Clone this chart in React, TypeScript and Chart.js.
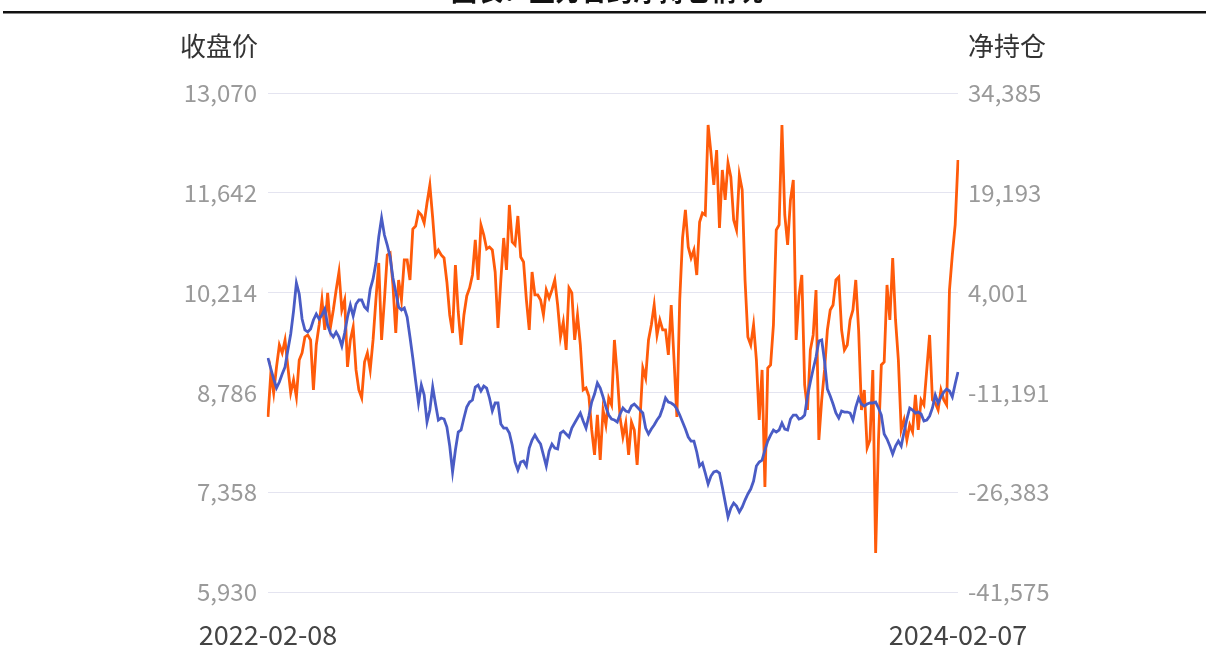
import React, { useEffect, useRef } from "react";
import { Chart, registerables } from "chart.js";

Chart.register(...registerables);

const startDate = "2022-02-08";
const endDate = "2024-02-07";
const leftTitle = "收盘价";
const rightTitle = "净持仓";
const chartTitle = "图表：主力合约净持仓情况";

const priceTicks = [5930, 7358, 8786, 10214, 11642, 13070];
const netTicks = [-41575, -26383, -11191, 4001, 19193, 34385];

const closePrice = [
  9278, 9121, 8978, 8849, 8935, 9049, 9149, 9392, 9621, 9951,
  10351, 10194, 9836, 9679, 9650, 9693, 9822, 9908, 9836, 9893,
  9979, 9750, 9636, 9579, 9650, 9579, 9450, 9636, 9865, 10036,
  9879, 10051, 10108, 10108, 10008, 9965, 10265, 10409, 10637, 11010,
  11281, 11038, 10895, 10723, 10423, 10222, 10008, 9965, 9993, 9865,
  9579, 9278, 8949, 8634, 8892, 8749, 8362, 8534, 8863, 8620,
  8391, 8419, 8405, 8291, 8019, 7647, 7961, 8219, 8248, 8419,
  8577, 8648, 8677, 8863, 8892, 8806, 8877, 8849, 8706, 8520,
  8634, 8634, 8334, 8276, 8276, 8205, 8033, 7790, 7675, 7790,
  7804, 7733, 7990, 8105, 8176, 8105, 8047, 7890, 7733, 7947,
  8047, 7990, 7976, 8205, 8233, 8190, 8148, 8276, 8348, 8419,
  8491, 8376, 8276, 8448, 8648, 8763, 8920, 8849, 8720, 8577,
  8462, 8405, 8391, 8362, 8477, 8563, 8520, 8505, 8591, 8620,
  8577, 8534, 8491, 8276, 8190, 8262, 8319, 8391, 8448, 8563,
  8706, 8648, 8634, 8605, 8548, 8462, 8362, 8262, 8148, 8090,
  8090, 7933, 7733, 7775, 7632, 7475, 7589, 7647, 7661, 7632,
  7432, 7217, 7003, 7131, 7203, 7160, 7074, 7146, 7246, 7332,
  7403, 7518, 7733, 7790, 7818, 7961, 8090, 8176, 8248, 8219,
  8248, 8348, 8262, 8248, 8405, 8462, 8462, 8405, 8419, 8462,
  8734, 8935, 9121, 9292, 9521, 9536, 9235, 8834, 8734, 8620,
  8491, 8419, 8520, 8505, 8505, 8491, 8391, 8577, 8706, 8620,
  8591, 8620, 8634, 8634, 8648, 8563, 8462, 8190, 8119, 8019,
  7904, 8019, 8090, 8019, 8219, 8405, 8563, 8534, 8491, 8505,
  8477, 8376, 8391, 8448, 8563, 8749, 8634, 8720, 8791, 8834,
  8806, 8720, 8906, 9078,
];

const netPosition = [
  -14927, -8231, -11275, -7317, -3969, -5187, -3208, -7317, -11275, -9296,
  -11883, -6252, -5187, -2751, -2447, -3208, -10818, -3969, -925, 2880,
  -1686, 3945, -1229, 1358, 4402, 7142, 1358, 2880, -7317, -3208,
  -1229, -7774, -10818, -12036, -6556, -5187, -7774, -3208, 2880, 8511,
  -3208, 2880, 9729, 10033, 5163, -2143, 5924, 2880, 8968, 8968,
  5924, 13686, 14143, 16274, 15817, 14599, 17643, 20383, 15360, 9729,
  10490, 9729, 9272, 5620, 597, -2143, 8207, 1054, -3969, 597,
  3489, 4706, 6685, 12012, 5924, 14295, 12773, 10642, 10947, 10490,
  7142, -1382, 5924, 12316, 7446, 17339, 11708, 11251, 15665, 9425,
  8664, 2880, -1686, 7142, 3641, 3641, 2880, 597, 4402, 3184,
  4402, 5924, 2119, -2751, -468, -4730, 4706, 3945, -3208, 597,
  -3969, -10818, -10514, -11731, -16906, -20711, -14623, -21472, -13862, -16145,
  -12036, -13101, -3208, -8535, -15080, -17971, -15841, -20711, -15688, -16906,
  -22233, -15384, -7470, -8992, -3208, -925, 2119, -2447, -164, -1686,
  -1686, -5491, 2119, -6252, -14927, 2880, 12316, 16578, 10947, 9272,
  10490, 6685, 14752, 16121, 15817, 29515, 25253, 20383, 25710, 13838,
  22666, 18100, 23731, 21601, 15056, 13534, 21905, 19622, 5924, -2751,
  -3969, -925, -6252, -15384, -7774, -25581, -7470, -7013, -925, 13534,
  14295, 29515, 15817, 11251, 18100, 21144, -3208, 3489, 6685, -10057,
  -13862, -4730, -2447, 4402, -18428, -12340, -7774, -1686, 1358, 2119,
  5924, 6381, -1686, -4730, -3969, -164, 1358, 5924, -1686, -13862,
  -10818, -19646, -18428, -7774, -35627, -18428, -7013, -6556, 5163, -164,
  9272, -164, -6252, -16906, -15384, -18428, -16145, -17210, -11579, -16906,
  -12340, -13101, -7774, -2447, -12340, -12797, -13862, -10818, -12340, -13101,
  4402, 9729, 14295, 24188,
];

function buildDates(start: string, end: string, stepDays: number): string[] {
  const out: string[] = [];
  const d = new Date(start + "T00:00:00Z");
  const e = new Date(end + "T00:00:00Z");
  while (d.getTime() <= e.getTime()) {
    out.push(d.toISOString().slice(0, 10));
    d.setUTCDate(d.getUTCDate() + stepDays);
  }
  return out;
}

const dates = buildDates(startDate, endDate, 3);

const FONT = '"Noto Sans CJK SC", "Noto Sans", sans-serif';

export default function App() {
  const ref = useRef<HTMLCanvasElement | null>(null);

  useEffect(() => {
    if (!ref.current) return;
    const overlay = {
      id: "overlay",
      afterDraw(chart: any) {
        const ctx = chart.ctx;
        ctx.save();
        ctx.fillStyle = "#111";
        ctx.fillRect(3, 11, 1203, 2.5);
        ctx.font = `bold 26px ${FONT}`;
        ctx.textAlign = "center";
        ctx.textBaseline = "alphabetic";
        ctx.fillText(chartTitle, 607, 1);
        ctx.fillStyle = "#333";
        ctx.font = `26px ${FONT}`;
        ctx.textBaseline = "middle";
        ctx.textAlign = "right";
        ctx.fillText(leftTitle, 258, 46);
        ctx.textAlign = "left";
        ctx.fillText(rightTitle, 968, 46);
        ctx.restore();
      },
    };
    const chart = new Chart(ref.current, {
      type: "line",
      data: {
        labels: dates,
        datasets: [
          {
            label: leftTitle,
            data: closePrice,
            yAxisID: "y",
            borderColor: "#4a5cc5",
            borderWidth: 2.8,
            pointRadius: 0,
            tension: 0,
          },
          {
            label: rightTitle,
            data: netPosition,
            yAxisID: "y1",
            borderColor: "#ff5b0a",
            borderWidth: 2.8,
            pointRadius: 0,
            tension: 0,
          },
        ],
      },
      options: {
        responsive: false,
        animation: false,
        devicePixelRatio: 1,
        layout: { padding: { top: 93, left: 0, right: 0, bottom: 0 } },
        plugins: {
          legend: { display: false },
          tooltip: { enabled: false },
        },
        scales: {
          x: {
            type: "category",
            offset: false,
            grid: { display: false, drawTicks: false },
            border: { display: false },
            afterFit: (s: any) => {
              s.height = 67;
            },
            ticks: {
              autoSkip: false,
              maxRotation: 0,
              padding: 27,
              color: "#444",
              font: { family: FONT, size: 27 },
              callback: (_v: any, i: number) =>
                i === 0 || i === dates.length - 1 ? dates[i] : "",
            },
          },
          y: {
            position: "left",
            min: priceTicks[0],
            max: priceTicks[priceTicks.length - 1],
            afterFit: (s: any) => {
              s.width = 268;
            },
            afterBuildTicks: (s: any) => {
              s.ticks = priceTicks.map((v) => ({ value: v }));
            },
            grid: { color: "#e4e4f0", lineWidth: 1, drawTicks: false },
            border: { display: false },
            ticks: {
              padding: 11,
              color: "#9a9a9a",
              font: { family: FONT, size: 24 },
              callback: (v: any) => Number(v).toLocaleString("en-US"),
            },
          },
          y1: {
            position: "right",
            min: netTicks[0],
            max: netTicks[netTicks.length - 1],
            afterFit: (s: any) => {
              s.width = 248;
            },
            afterBuildTicks: (s: any) => {
              s.ticks = netTicks.map((v) => ({ value: v }));
            },
            grid: { display: false, drawTicks: false },
            border: { display: false },
            ticks: {
              padding: 10,
              color: "#9a9a9a",
              font: { family: FONT, size: 24 },
              callback: (v: any) => Number(v).toLocaleString("en-US"),
            },
          },
        },
      },
      plugins: [overlay],
    });
    return () => chart.destroy();
  }, []);

  return (
    <div style={{ position: "absolute", left: 0, top: 0, width: 1206, height: 659, background: "#fff" }}>
      <canvas ref={ref} width={1206} height={659} style={{ display: "block" }} />
    </div>
  );
}
